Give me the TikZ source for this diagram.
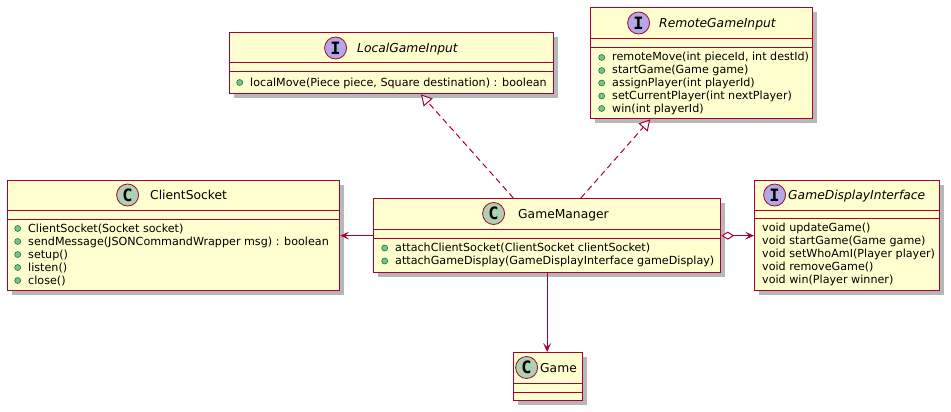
\documentclass[tikz,border=0pt]{standalone}
\usepackage{fontspec}
\setmainfont{DejaVu Sans}
\newfontfamily\iconfont{DejaVu Sans Mono}
\usetikzlibrary{arrows.meta,positioning,calc,shadows}

\definecolor{umlfill}{HTML}{FEFECE}
\definecolor{umlred}{HTML}{A80036}
\definecolor{classcirc}{HTML}{ADD1B2}
\definecolor{ifacecirc}{HTML}{B4A7E5}
\definecolor{pubfill}{HTML}{84BE84}
\definecolor{pubdraw}{HTML}{038048}

\tikzset{
  classbox/.style={draw=umlred, fill=umlfill, line width=1.3pt, anchor=north west, inner sep=0pt,
    drop shadow={shadow xshift=4pt, shadow yshift=-4pt, fill=black!40, opacity=0.7}},
  sepline/.style={draw=umlred, line width=1pt},
  classicon/.style={circle, draw=umlred, line width=0.8pt, minimum size=22pt, inner sep=0pt,
    font=\iconfont\bfseries\fontsize{17}{17}\selectfont},
  classname/.style={anchor=west, inner sep=0pt, text height=9pt, text depth=0pt,
    font=\fontsize{12.3}{14}\selectfont},
  ifacename/.style={classname, font=\fontsize{12.3}{14}\selectfont\itshape},
  member/.style={anchor=west, inner sep=0pt, text height=8pt, text depth=1pt,
    font=\fontsize{11.15}{13}\selectfont},
  pub/.style={circle, fill=pubfill, draw=pubdraw, line width=0.6pt, minimum size=6pt, inner sep=0pt},
  realize/.style={draw=umlred, line width=1pt, dash pattern=on 6pt off 4pt,
    -{Triangle[length=11pt, width=12pt, fill=white]}},
  assoc/.style={draw=umlred, line width=1pt, -{Stealth[length=9pt, width=8pt, inset=4pt]}},
  aggr/.style={draw=umlred, line width=1pt,
    {Diamond[length=13pt, width=8pt, fill=white]}-{Stealth[length=9pt, width=8pt, inset=4pt]}}
}

\begin{document}
\begin{tikzpicture}[x=1pt, y=-1pt]
    \useasboundingbox[fill=white] (0,0) rectangle (951,412);

    % LocalGameInput
        \node[classbox, minimum width=324pt, minimum height=61pt] (lgi) at (229,32) {};
        \draw[sepline] (229,63) -- (553,63);
        \draw[sepline] (229,72) -- (553,72);
        \node[ifacename] (lgi-name) at (357,48) {LocalGameInput};
        \node[classicon, fill=ifacecirc, left=10pt of lgi-name] {I};
        \node[member] (lgi-m1) at (250,82.5) {localMove(Piece piece, Square destination) : boolean};
        \node[pub, left=7pt of lgi-m1] {};

    % RemoteGameInput
        \node[classbox, minimum width=222pt, minimum height=111pt] (rgi) at (590,7) {};
        \draw[sepline] (590,39) -- (812,39);
        \draw[sepline] (590,48) -- (812,48);
        \node[ifacename] (rgi-name) at (659,23) {RemoteGameInput};
        \node[classicon, fill=ifacecirc, left=9pt of rgi-name] {I};
        \node[member] (rgi-m1) at (612,57.5) {remoteMove(int pieceId, int destId)};
        \node[member] (rgi-m2) at (612,70.5) {startGame(Game game)};
        \node[member] (rgi-m3) at (612,83) {assignPlayer(int playerId)};
        \node[member] (rgi-m4) at (612,96) {setCurrentPlayer(int nextPlayer)};
        \node[member] (rgi-m5) at (612,108.5) {win(int playerId)};
        \node[pub, left=7pt of rgi-m1] {};
        \node[pub, left=7pt of rgi-m2] {};
        \node[pub, left=7pt of rgi-m3] {};
        \node[pub, left=7pt of rgi-m4] {};
        \node[pub, left=7pt of rgi-m5] {};

    % ClientSocket
        \node[classbox, minimum width=332pt, minimum height=110pt] (cs) at (7,180) {};
        \draw[sepline] (7,210) -- (339,210);
        \draw[sepline] (7,219) -- (339,219);
        \node[classname] (cs-name) at (150,195) {ClientSocket};
        \node[classicon, fill=classcirc, left=11pt of cs-name] {C};
        \node[member] (cs-m1) at (28,228.5) {ClientSocket(Socket socket)};
        \node[member] (cs-m2) at (28,241.5) {sendMessage(JSONCommandWrapper msg) : boolean};
        \node[member] (cs-m3) at (28,254.5) {setup()};
        \node[member] (cs-m4) at (28,267.5) {listen()};
        \node[member] (cs-m5) at (28,280.5) {close()};
        \node[pub, left=7pt of cs-m1] {};
        \node[pub, left=7pt of cs-m2] {};
        \node[pub, left=7pt of cs-m3] {};
        \node[pub, left=7pt of cs-m4] {};
        \node[pub, left=7pt of cs-m5] {};

    % GameManager
        \node[classbox, minimum width=347pt, minimum height=74pt] (gm) at (373,198) {};
        \draw[sepline] (373,229) -- (720,229);
        \draw[sepline] (373,238) -- (720,238);
        \node[classname] (gm-name) at (518,213.5) {GameManager};
        \node[classicon, fill=classcirc, left=13pt of gm-name] {C};
        \node[member] (gm-m1) at (395,248) {attachClientSocket(ClientSocket clientSocket)};
        \node[member] (gm-m2) at (395,261) {attachGameDisplay(GameDisplayInterface gameDisplay)};
        \node[pub, left=7pt of gm-m1] {};
        \node[pub, left=7pt of gm-m2] {};

    % GameDisplayInterface
        \node[classbox, minimum width=185pt, minimum height=110pt] (gdi) at (754,180) {};
        \draw[sepline] (754,210) -- (939,210);
        \draw[sepline] (754,218) -- (939,218);
        \node[ifacename] (gdi-name) at (788,195) {GameDisplayInterface};
        \node[classicon, fill=ifacecirc, left=2pt of gdi-name] {I};
        \node[member] at (762,228) {void updateGame()};
        \node[member] at (762,241) {void startGame(Game game)};
        \node[member] at (762,254) {void setWhoAmI(Player player)};
        \node[member] at (762,267) {void removeGame()};
        \node[member] at (762,280) {void win(Player winner)};

    % Game
        \node[classbox, minimum width=69pt, minimum height=48pt] (game) at (513,352) {};
        \draw[sepline] (513,383) -- (582,383);
        \draw[sepline] (513,392) -- (582,392);
        \node[classname] (game-name) at (540,367.5) {Game};
        \node[classicon, fill=classcirc, left=2pt of game-name] {C};

    % realizations
        \draw[realize] ($(gm.north west)!0.403!(gm.north east)$) -- ($(lgi.south west)!0.59!(lgi.south east)$);
        \draw[realize] ($(gm.north west)!0.597!(gm.north east)$) -- ($(rgi.south west)!0.27!(rgi.south east)$);

    % associations
        \draw[assoc] (gm.west) -- (cs.east);
        \draw[aggr] (gm.east) -- (gdi.west);
        \draw[assoc] (gm.south) -- (gm.south |- game.north);

\end{tikzpicture}
\end{document}
